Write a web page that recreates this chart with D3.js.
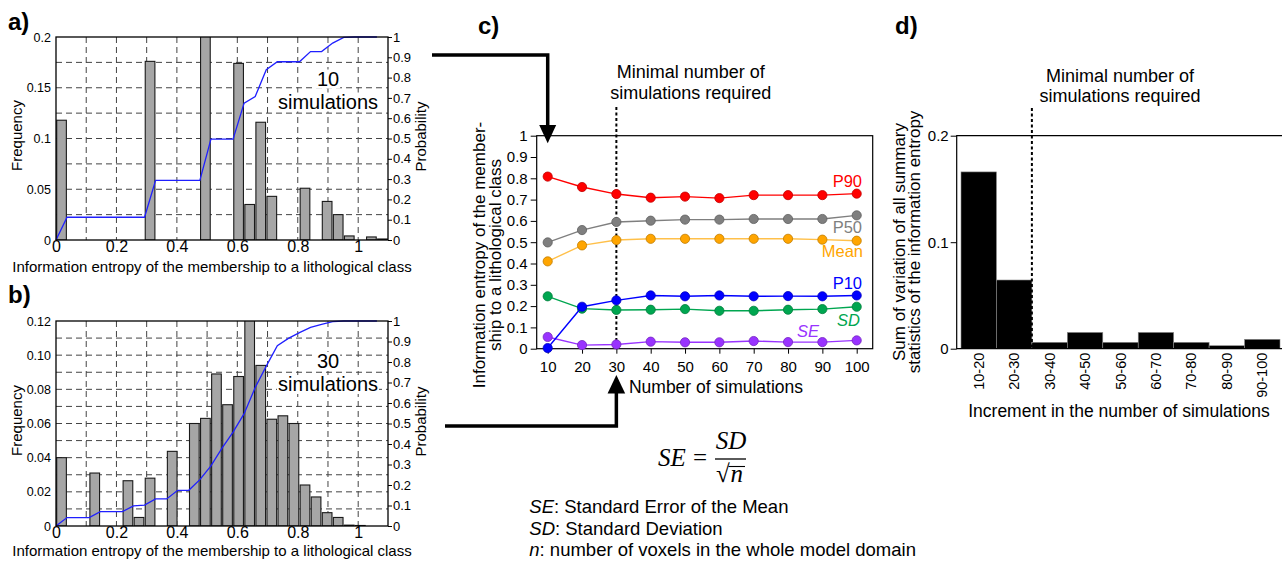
<!DOCTYPE html>
<html lang="en">
<head>
<meta charset="UTF-8">
<title>Information entropy and number of simulations</title>
<script src="https://cdn.jsdelivr.net/npm/d3@7"></script>
<style>
  body { margin: 0; background: #fff; }
  svg { display: block; }
  .grid { stroke: #444; stroke-width: 1; stroke-dasharray: 6,4; }
</style>
</head>
<body>
<div id="chart"></div>
<script>
// ---------- values ----------
const entropyMax = 1.0986; // ln(3), right end of the entropy axis (30 bins)

// a) 10 simulations: frequency per bin, cumulative probability at bin edges k = 0..29
const freq10 = [0.118, 0, 0, 0, 0, 0, 0, 0, 0.176, 0, 0, 0, 0, 0.203, 0, 0,
  0.174, 0.035, 0.116, 0.043, 0, 0, 0.051, 0, 0.038, 0.025, 0.004, 0, 0.003, 0.001];
const cdf10 = [0, 0.112, 0.112, 0.112, 0.112, 0.112, 0.112, 0.112, 0.112, 0.294,
  0.294, 0.294, 0.294, 0.294, 0.497, 0.497, 0.497, 0.674, 0.707, 0.839,
  0.878, 0.878, 0.878, 0.928, 0.928, 0.970, 0.998, 1, 1, 1];

// b) 30 simulations
const freq30 = [0.040, 0, 0, 0.031, 0, 0, 0.0265, 0.005, 0.028, 0, 0.0437, 0,
  0.060, 0.063, 0.089, 0.071, 0.0875, 0.125, 0.094, 0.0625, 0.0645, 0.060,
  0.024, 0.017, 0.0078, 0.005, 0.0005, 0.0003, 0, 0];
const cdf30 = [0, 0.041, 0.041, 0.041, 0.070, 0.070, 0.070, 0.098, 0.102, 0.132,
  0.132, 0.174, 0.174, 0.226, 0.293, 0.380, 0.458, 0.548, 0.676, 0.780,
  0.880, 0.915, 0.943, 0.969, 0.984, 0.997, 1, 1, 1, 1];

// c) summary statistics vs number of simulations
const simCounts = [10, 20, 30, 40, 50, 60, 70, 80, 90, 100];
const p90 = [0.808, 0.759, 0.726, 0.709, 0.714, 0.707, 0.721, 0.721, 0.721, 0.728];
const p50 = [0.499, 0.557, 0.595, 0.601, 0.606, 0.606, 0.609, 0.609, 0.609, 0.626];
const meanVals = [0.410, 0.485, 0.510, 0.516, 0.516, 0.516, 0.516, 0.516, 0.512, 0.507];
const p10 = [0.003, 0.197, 0.227, 0.250, 0.246, 0.250, 0.246, 0.247, 0.246, 0.250];
const sdVals = [0.246, 0.188, 0.182, 0.183, 0.186, 0.178, 0.178, 0.183, 0.186, 0.197];
const seVals = [0.055, 0.017, 0.020, 0.033, 0.030, 0.030, 0.036, 0.031, 0.031, 0.039];
const minimalSims = 30;

// d) sum of variation per increment
const increments = ["10-20", "20-30", "30-40", "40-50", "50-60", "60-70", "70-80", "80-90", "90-100"];
const variationSum = [0.166, 0.0645, 0.006, 0.0153, 0.006, 0.0153, 0.006, 0.0028, 0.0088];

// ---------- drawing ----------
const FONT = "'Liberation Sans', Arial, sans-serif";
const SERIF = "'Liberation Serif', 'DejaVu Serif', serif";

const svg = d3.select("#chart").append("svg")
  .attr("width", 1282).attr("height", 561)
  .attr("font-family", FONT);

svg.append("rect").attr("width", 1282).attr("height", 561).attr("fill", "#fff");

function fixAxis(a, size) {
  a.attr("font-family", FONT).attr("font-size", size);
  a.selectAll("text").attr("fill", "#000");
  a.selectAll("line").attr("stroke", "#000");
}

// text with a tight white box behind it
function boxedText(g, x, y, str, size) {
  const t = g.append("text").attr("x", x).attr("y", y)
    .attr("text-anchor", "middle").attr("font-size", size).text(str);
  const b = t.node().getBBox();
  g.insert("rect", "text").attr("x", b.x - 1).attr("y", b.y + 2)
    .attr("width", b.width + 2).attr("height", b.height - 3).attr("fill", "#fff");
}

function drawHistogram(opts) {
  const left = 56, right = 388, top = opts.top, bottom = opts.bottom;
  const x = d3.scaleLinear().domain([0, entropyMax]).range([left, right]);
  const y = d3.scaleLinear().domain([0, opts.yMax]).range([bottom, top]);
  const yProb = d3.scaleLinear().domain([0, 1]).range([bottom, top]);
  const binW = entropyMax / opts.freq.length;
  const g = svg.append("g");

  g.append("clipPath").attr("id", opts.id + "-clip")
    .append("rect").attr("x", left).attr("y", top)
    .attr("width", right - left).attr("height", bottom - top);

  // dashed grid
  g.append("g").selectAll("line")
    .data(d3.range(1, 11).map(i => i / 10))
    .join("line")
    .attr("class", "grid")
    .attr("x1", d => x(d)).attr("x2", d => x(d))
    .attr("y1", top).attr("y2", bottom);
  g.append("g").selectAll("line")
    .data(d3.range(1, Math.round(opts.yMax / opts.gridStep)).map(i => i * opts.gridStep))
    .join("line")
    .attr("class", "grid")
    .attr("x1", left).attr("x2", right)
    .attr("y1", d => y(d)).attr("y2", d => y(d));

  // bars
  g.append("g").attr("clip-path", `url(#${opts.id}-clip)`)
    .selectAll("rect")
    .data(opts.freq.map((v, i) => ({ i: i, v: v })).filter(d => d.v > 0))
    .join("rect")
    .attr("x", d => x(d.i * binW) + 0.7)
    .attr("width", x(binW) - x(0) - 1.4)
    .attr("y", d => y(d.v))
    .attr("height", d => bottom - y(d.v))
    .attr("fill", "#a6a6a6")
    .attr("stroke", "#1a1a1a")
    .attr("stroke-width", 1.1);

  // cumulative probability
  g.append("path")
    .datum(opts.cdf)
    .attr("fill", "none")
    .attr("stroke", "#1f1fff")
    .attr("stroke-width", 1.3)
    .attr("d", d3.line().x((d, k) => x(k * binW)).y(d => yProb(d)));

  // frame
  g.append("rect").attr("x", left).attr("y", top)
    .attr("width", right - left).attr("height", bottom - top)
    .attr("fill", "none").attr("stroke", "#000").attr("stroke-width", 1.3);

  // axes
  g.append("g").attr("transform", `translate(${left},0)`)
    .call(d3.axisLeft(y).tickValues(opts.yTicks).tickFormat(opts.yFormat).tickSize(0).tickPadding(5))
    .call(a => a.select(".domain").remove())
    .call(a => fixAxis(a, 12.5));
  g.append("g").attr("transform", `translate(${right},0)`)
    .call(d3.axisRight(yProb).ticks(10).tickFormat(d3.format("~g")).tickSize(4).tickPadding(1))
    .call(a => a.select(".domain").remove())
    .call(a => fixAxis(a, 13));
  g.append("g").attr("transform", `translate(0,${bottom})`)
    .call(d3.axisBottom(x).tickValues([0, 0.2, 0.4, 0.6, 0.8, 1]).tickFormat(d3.format("~g")).tickSize(0).tickPadding(1))
    .call(a => a.select(".domain").remove())
    .call(a => fixAxis(a, 16));

  // axis titles
  g.append("text").attr("x", 212).attr("y", opts.xLabelY)
    .attr("text-anchor", "middle").attr("font-size", 15)
    .text("Information entropy of the membership to a lithological class");
  g.append("text").attr("transform", `translate(22,${(top + bottom) / 2 - 3}) rotate(-90)`)
    .attr("text-anchor", "middle").attr("font-size", 15).text("Frequency");
  g.append("text").attr("transform", `translate(425.5,${(top + bottom) / 2 - 2}) rotate(-90)`)
    .attr("text-anchor", "middle").attr("font-size", 15).text("Probability");

  // panel letter
  g.append("text").attr("x", 8).attr("y", opts.letterY)
    .attr("font-size", 24).attr("font-weight", "bold").text(opts.letter);

  // number of simulations
  const lab = g.append("g");
  boxedText(lab, 328, opts.simY, opts.sims, 20);
  boxedText(lab, 328, opts.simY + 23, "simulations", 20);
}

drawHistogram({
  id: "ha", top: 37, bottom: 240, freq: freq10, cdf: cdf10,
  yMax: 0.2, gridStep: 0.025, yTicks: [0, 0.05, 0.1, 0.15, 0.2], yFormat: d3.format("~g"),
  xLabelY: 272, letter: "a)", letterY: 30, sims: "10", simY: 85.5
});
drawHistogram({
  id: "hb", top: 321, bottom: 526, freq: freq30, cdf: cdf30,
  yMax: 0.12, gridStep: 0.01, yTicks: d3.range(0, 7).map(i => i * 0.02),
  yFormat: d => d === 0 ? "0" : d3.format(".2f")(d),
  xLabelY: 555.5, letter: "b)", letterY: 303, sims: "30", simY: 368
});

// ---------- panel c ----------
const cBox = { left: 536.7, right: 872.7, top: 135.7, bottom: 348.7 };
const xC = d3.scaleLinear().domain([10, 100]).range([547.7, 856.7]);
const yC = d3.scaleLinear().domain([0, 1]).range([cBox.bottom, cBox.top]);

const series = [
  { name: "SE", values: seVals, color: "#9933ff", line: "#9933ff", lx: 797, ly: 336.5, anchor: "start", italic: true },
  { name: "SD", values: sdVals, color: "#00a650", line: "#00a650", lx: 860, ly: 326, anchor: "end", italic: true },
  { name: "P10", values: p10, color: "#0000ff", line: "#0000ff", lx: 862, ly: 288.5, anchor: "end" },
  { name: "Mean", values: meanVals, color: "#ffa500", line: "#ffc04a", lx: 863, ly: 256.5, anchor: "end" },
  { name: "P50", values: p50, color: "#7f7f7f", line: "#7f7f7f", lx: 862, ly: 232.5, anchor: "end" },
  { name: "P90", values: p90, color: "#ff0000", line: "#ff0000", lx: 862, ly: 187, anchor: "end" }
];

const gc = svg.append("g");

gc.append("line")
  .attr("x1", xC(minimalSims)).attr("x2", xC(minimalSims))
  .attr("y1", 107).attr("y2", cBox.bottom)
  .attr("stroke", "#000").attr("stroke-width", 2).attr("stroke-dasharray", "3,2.5");

gc.append("rect").attr("x", cBox.left).attr("y", cBox.top)
  .attr("width", cBox.right - cBox.left).attr("height", cBox.bottom - cBox.top)
  .attr("fill", "none").attr("stroke", "#000").attr("stroke-width", 1.2);

gc.append("g").attr("transform", `translate(${cBox.left},0)`)
  .call(d3.axisLeft(yC).ticks(10).tickFormat(d3.format("~g")).tickSize(6).tickPadding(3))
  .call(a => a.select(".domain").remove())
  .call(a => fixAxis(a, 15));
gc.append("g").attr("transform", `translate(0,${cBox.bottom})`)
  .call(d3.axisBottom(xC).tickValues(simCounts).tickSize(5).tickPadding(8))
  .call(a => a.select(".domain").remove())
  .call(a => fixAxis(a, 15));

series.forEach(s => {
  const pts = simCounts.map((n, i) => [n, s.values[i]]);
  gc.append("path").datum(pts)
    .attr("fill", "none").attr("stroke", s.line).attr("stroke-width", 1.4)
    .attr("d", d3.line().x(d => xC(d[0])).y(d => yC(d[1])));
  gc.append("g").selectAll("circle").data(pts).join("circle")
    .attr("cx", d => xC(d[0])).attr("cy", d => yC(d[1])).attr("r", 4.6)
    .attr("fill", s.color)
    .attr("stroke", d3.color(s.color).darker(0.8)).attr("stroke-width", 0.8);
  gc.append("text").attr("x", s.lx).attr("y", s.ly)
    .attr("text-anchor", s.anchor).attr("font-size", 16.5)
    .attr("font-style", s.italic ? "italic" : null)
    .attr("fill", s.color).text(s.name);
});

gc.append("text").attr("x", 716).attr("y", 393).attr("text-anchor", "middle")
  .attr("font-size", 17.5).text("Number of simulations");
gc.append("text").attr("transform", "translate(485,255) rotate(-90)")
  .attr("text-anchor", "middle").attr("font-size", 17)
  .text("Information entropy of the member-");
gc.append("text").attr("transform", "translate(501,255) rotate(-90)")
  .attr("text-anchor", "middle").attr("font-size", 17)
  .text("ship to a lithological class");
gc.append("text").attr("x", 690.7).attr("y", 78.3).attr("text-anchor", "middle")
  .attr("font-size", 18).text("Minimal number of");
gc.append("text").attr("x", 690.7).attr("y", 98.5).attr("text-anchor", "middle")
  .attr("font-size", 18).text("simulations required");
gc.append("text").attr("x", 478).attr("y", 34).attr("font-size", 24)
  .attr("font-weight", "bold").text("c)");

// arrows from a) and b) into c)
const arrows = svg.append("g").attr("fill", "#000");
arrows.append("path")
  .attr("d", `M432,55 H${xC(10)} V126`)
  .attr("fill", "none").attr("stroke", "#000").attr("stroke-width", 3.5);
arrows.append("path")
  .attr("d", `M${xC(10) - 8.5},125 H${xC(10) + 8.5} L${xC(10)},${cBox.top + 7.5} Z`);
arrows.append("path")
  .attr("d", `M445,426 H${xC(minimalSims)} V392`)
  .attr("fill", "none").attr("stroke", "#000").attr("stroke-width", 3.5);
arrows.append("path")
  .attr("d", `M${xC(minimalSims) - 8.8},393.5 H${xC(minimalSims) + 8.8} L${xC(minimalSims)},375 Z`);

// ---------- panel d ----------
const dBox = { left: 956.7, top: 135.7, bottom: 348.7 };
const xD = d3.scaleBand().domain(increments).range([961, 1280]).padding(0);
const yD = d3.scaleLinear().domain([0, 0.2]).range([dBox.bottom, dBox.top]);
const gd = svg.append("g");

gd.append("g").selectAll("rect")
  .data(increments.map((k, i) => ({ k: k, v: variationSum[i] })))
  .join("rect")
  .attr("x", d => xD(d.k)).attr("width", xD.bandwidth())
  .attr("y", d => yD(d.v)).attr("height", d => dBox.bottom - yD(d.v))
  .attr("fill", "#000").attr("stroke", "#8a8a8a").attr("stroke-width", 0.6);

gd.append("line")
  .attr("x1", xD("30-40")).attr("x2", xD("30-40"))
  .attr("y1", 108).attr("y2", dBox.bottom)
  .attr("stroke", "#000").attr("stroke-width", 2).attr("stroke-dasharray", "3,2.5");

gd.append("path")
  .attr("d", `M1282,${dBox.top} H${dBox.left} V${dBox.bottom} H1282`)
  .attr("fill", "none").attr("stroke", "#000").attr("stroke-width", 1.2);

gd.append("g").attr("transform", `translate(${dBox.left},0)`)
  .call(d3.axisLeft(yD).tickValues([0, 0.1, 0.2]).tickFormat(d3.format("~g")).tickSize(6).tickPadding(2))
  .call(a => a.select(".domain").remove())
  .call(a => fixAxis(a, 15));
gd.append("g").attr("transform", `translate(0,${dBox.bottom})`)
  .call(d3.axisBottom(xD).tickSize(0))
  .call(a => a.select(".domain").remove())
  .call(a => fixAxis(a, 14.5))
  .selectAll("text")
  .attr("transform", "rotate(-90)")
  .attr("text-anchor", "end")
  .attr("x", -4).attr("y", 0).attr("dy", "0.35em");

gd.append("text").attr("x", 1119).attr("y", 417).attr("text-anchor", "middle")
  .attr("font-size", 17.5).text("Increment in the number of simulations");
gd.append("text").attr("transform", "translate(904.5,242) rotate(-90)")
  .attr("text-anchor", "middle").attr("font-size", 17)
  .text("Sum of variation of all summary");
gd.append("text").attr("transform", "translate(920,242) rotate(-90)")
  .attr("text-anchor", "middle").attr("font-size", 17)
  .text("statistics of the information entropy");
gd.append("text").attr("x", 1120).attr("y", 81.5).attr("text-anchor", "middle")
  .attr("font-size", 18).text("Minimal number of");
gd.append("text").attr("x", 1120).attr("y", 102).attr("text-anchor", "middle")
  .attr("font-size", 18).text("simulations required");
gd.append("text").attr("x", 895).attr("y", 34).attr("font-size", 24)
  .attr("font-weight", "bold").text("d)");

// ---------- formula and legend ----------
const fm = svg.append("g").attr("font-family", SERIF).attr("font-size", 25);
fm.append("text").attr("x", 658).attr("y", 465.5).attr("font-style", "italic").text("SE");
fm.append("text").attr("x", 693).attr("y", 465.5).text("=");
fm.append("text").attr("x", 731).attr("y", 448.5).attr("text-anchor", "middle")
  .attr("font-style", "italic").text("SD");
fm.append("line").attr("x1", 715).attr("x2", 746).attr("y1", 459).attr("y2", 459)
  .attr("stroke", "#000").attr("stroke-width", 1.3);
fm.append("text").attr("x", 716).attr("y", 482).text("\u221A");
fm.append("text").attr("x", 730.5).attr("y", 482).attr("font-style", "italic").text("n");
fm.append("line").attr("x1", 728.5).attr("x2", 745).attr("y1", 466.5).attr("y2", 466.5)
  .attr("stroke", "#000").attr("stroke-width", 1.1);

const legendLines = [
  ["SE", ": Standard Error of the Mean"],
  ["SD", ": Standard Deviation"],
  ["n", ": number of voxels in the whole model domain"]
];
const lg = svg.append("g").attr("font-size", 18.5);
legendLines.forEach((l, i) => {
  const t = lg.append("text").attr("x", 529.3).attr("y", 513 + i * 21.6);
  t.append("tspan").attr("font-style", "italic").text(l[0]);
  t.append("tspan").text(l[1]);
});
</script>
</body>
</html>
